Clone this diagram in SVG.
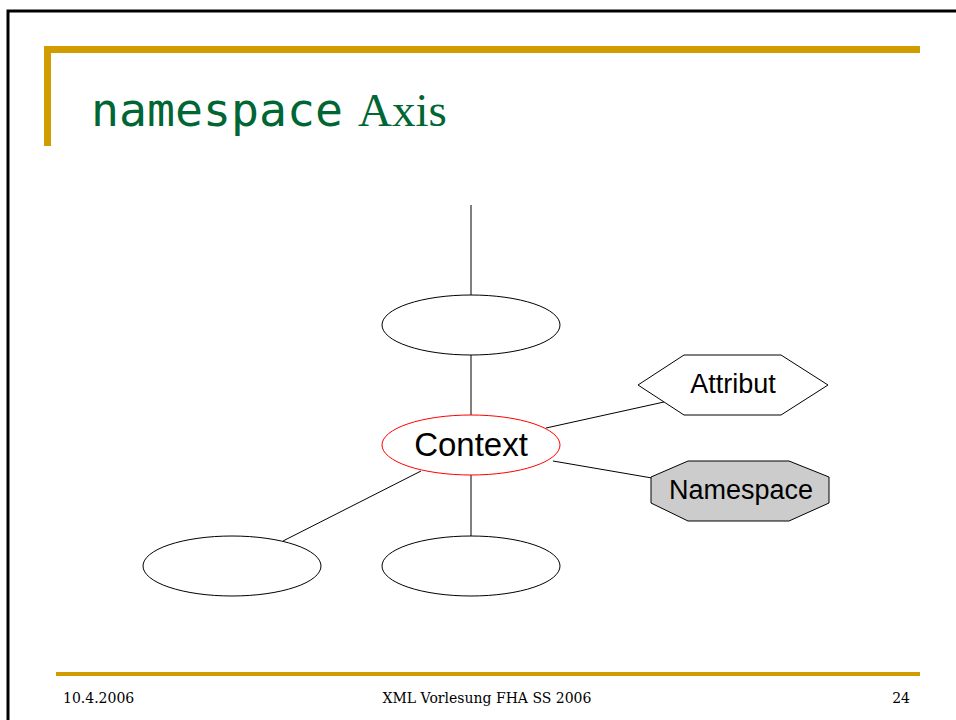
<svg xmlns="http://www.w3.org/2000/svg" width="956" height="720" viewBox="0 0 956 720">
  <style>
    .edge { stroke: #000; stroke-width: 1; fill: none; }
    .node { stroke: #000; stroke-width: 1; fill: #fff; }
    .lbl { font-family: "Liberation Sans", Arial, sans-serif; fill: #000; text-anchor: middle; }
    .foot { font-family: "DejaVu Serif", Georgia, serif; font-size: 14px; fill: #000; }
    .gold { fill: #D09C00; }
  </style>
  <rect width="956" height="720" fill="#fff"/>
  <!-- slide frame -->
  <path d="M8 720 V11 H956" fill="none" stroke="#000" stroke-width="3"/>
  <!-- title bar -->
  <rect class="gold" x="44" y="46" width="876" height="7"/>
  <rect class="gold" x="44" y="46" width="7" height="100"/>
  <text x="91" y="126" fill="#006633"><tspan font-family="'DejaVu Sans Mono', 'Liberation Mono', monospace" font-size="46.5">namespace</tspan><tspan font-family="'Liberation Serif', Georgia, serif" font-size="47" dx="15">Axis</tspan></text>

  <g id="connectors">
    <line class="edge" x1="471" y1="205" x2="471" y2="296"/>
    <line class="edge" x1="471" y1="355" x2="471" y2="415"/>
    <line class="edge" x1="471" y1="475" x2="471" y2="536"/>
    <line class="edge" x1="421" y1="471" x2="283" y2="541"/>
    <line class="edge" x1="546" y1="428" x2="664" y2="402"/>
    <line class="edge" x1="553" y1="461" x2="652" y2="478"/>
  </g>

  <g id="parent">
    <ellipse class="node" cx="471" cy="325" rx="89" ry="30"/>
  </g>
  <g id="context">
    <ellipse cx="471" cy="445" rx="89" ry="30" fill="#fff" stroke="#FF0000" stroke-width="1"/>
    <text class="lbl" x="471" y="456" font-size="33">Context</text>
  </g>
  <g id="child-left">
    <ellipse class="node" cx="232" cy="566" rx="89" ry="30"/>
  </g>
  <g id="child-middle">
    <ellipse class="node" cx="471" cy="566" rx="89" ry="30"/>
  </g>
  <g id="attribut">
    <polygon class="node" points="638,385 684,355 781,355 828,385 781,415 684,415"/>
    <text class="lbl" x="733" y="393" font-size="27">Attribut</text>
  </g>
  <g id="namespace">
    <polygon points="651,477 688,461 789,461 829,477 829,503 789,521 688,521 651,503" fill="#CCCCCC" stroke="#000" stroke-width="1"/>
    <text class="lbl" x="741" y="499" font-size="27">Namespace</text>
  </g>

  <!-- footer -->
  <rect class="gold" x="56" y="672" width="864" height="4"/>
  <text class="foot" x="63" y="703">10.4.2006</text>
  <text class="foot" x="487" y="703" text-anchor="middle">XML Vorlesung FHA SS 2006</text>
  <text class="foot" x="910" y="703" text-anchor="end">24</text>
</svg>
